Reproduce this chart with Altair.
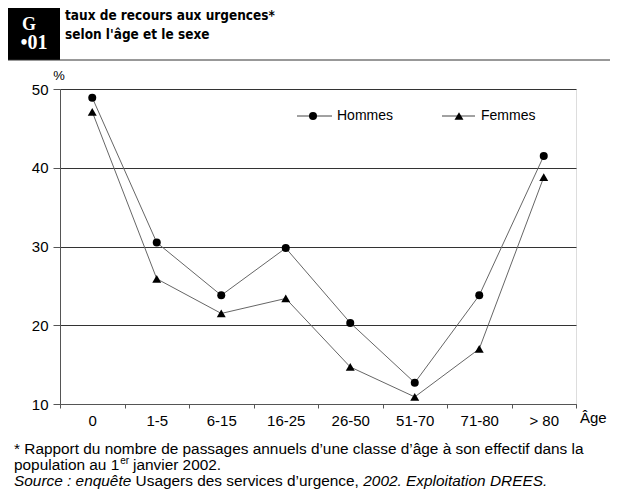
import altair as alt
import pandas as pd

ages = ["0", "1-5", "6-15", "16-25", "26-50", "51-70", "71-80", "> 80"]
hommes = [48.9, 30.5, 23.8, 29.8, 20.3, 12.7, 23.8, 41.5]
femmes = [47.1, 25.9, 21.5, 23.4, 14.7, 10.9, 17.0, 38.8]
series = ["Hommes", "Femmes"]
y_ticks = [10, 20, 30, 40, 50]

W, H = 516, 315
FONT = "Liberation Sans"

rows = []
for s, vals in zip(series, [hommes, femmes]):
    for a, v in zip(ages, vals):
        rows.append({"age": a, "serie": s, "taux": v})
df = pd.DataFrame(rows)

xenc = alt.X("age:N", sort=ages, title=None,
             scale=alt.Scale(paddingInner=0, paddingOuter=0),
             axis=alt.Axis(labelAngle=0, tickBand="extent", tickSize=4,
                           labelPadding=5, labelFontSize=15, labelColor="black",
                           tickColor="#555", domainColor="#555", grid=False))
yenc = alt.Y("taux:Q", title=None,
             scale=alt.Scale(domain=[10, 50], nice=False, zero=False),
             axis=alt.Axis(values=y_ticks, tickSize=7, labelPadding=5,
                           labelFontSize=15, labelColor="black",
                           tickColor="#555", domainColor="#555",
                           grid=True, gridColor="#333", gridWidth=1))

base = alt.Chart(df)
lines = base.mark_line(color="#666", strokeWidth=1).encode(
    x=xenc, y=yenc, detail="serie:N")
points = base.mark_point(filled=True, color="black", opacity=1).encode(
    x=xenc, y=yenc,
    shape=alt.Shape("serie:N", scale=alt.Scale(domain=series, range=["circle", "triangle-up"]), legend=None),
    size=alt.Size("serie:N", scale=alt.Scale(domain=series, range=[64, 80]), legend=None))


def one(d):
    return alt.Chart(pd.DataFrame([d]))


def text(t, x, y, size=14, align="left", font=FONT, weight="normal", style="normal",
         color="black", baseline="alphabetic"):
    return one({"t": t}).mark_text(align=align, baseline=baseline, fontSize=size, font=font,
                                   fontWeight=weight, fontStyle=style, color=color).encode(
        text="t:N", x=alt.value(x), y=alt.value(y))


layers = [lines, points]

# header box and frame
layers.append(one({"k": 1}).mark_rect(color="black").encode(
    x=alt.value(-53), x2=alt.value(0), y=alt.value(-84), y2=alt.value(-29)))
layers.append(one({"k": 1}).mark_rule(color="#333", strokeWidth=1).encode(
    x=alt.value(-53), x2=alt.value(560), y=alt.value(-29)))
layers.append(one({"k": 1}).mark_rule(color="#333", strokeWidth=1).encode(
    x=alt.value(-53), y=alt.value(-29), y2=alt.value(410)))
layers.append(text("G", -31, -59, size=18, align="center", font="Liberation Serif",
                   weight="bold", color="white"))
layers.append(text("•01", -26, -40, size=20, align="center", font="Liberation Serif",
                   weight="bold", color="white"))
TFONT = "Liberation Sans Narrow, DejaVu Sans Condensed, Liberation Sans"
layers.append(text("taux de recours aux urgences*", 5, -69, size=13.5, font=TFONT, weight="bold"))
layers.append(text("selon l'âge et le sexe", 5, -50, size=13.5, font=TFONT, weight="bold"))

# axis extras
layers.append(text("%", -1, -9, size=13, align="center"))
layers.append(text("Âge", 520, 334, size=15))

# legend
for name, x1, x2, xm, xt, shp, sz in [("Hommes", 237, 272, 253, 277, "circle", 64),
                                     ("Femmes", 382, 415, 399, 421, "triangle-up", 80)]:
    layers.append(one({"k": 1}).mark_rule(color="#444", strokeWidth=1).encode(
        x=alt.value(x1), x2=alt.value(x2), y=alt.value(27)))
    layers.append(one({"k": 1}).mark_point(shape=shp, size=sz, filled=True, color="black",
                                           opacity=1).encode(x=alt.value(xm), y=alt.value(27)))
    layers.append(text(name, xt, 27, size=14, baseline="middle"))

# footnotes
FS = 15.4
L = -46
layers.append(text("* Rapport du nombre de passages annuels d\u2019une classe d\u2019âge à son effectif dans la",
                   L, 365, size=FS))
layers.append(text("population au 1", L, 381, size=FS))
layers.append(text("er", L + 106.3, 375, size=10))
layers.append(text("janvier 2002.", L + 119, 381, size=FS))
layers.append(text("Source : enquête", L, 397, size=FS, style="italic"))
layers.append(text("Usagers des services d\u2019urgence,", L + 121.6, 397, size=FS))
layers.append(text("2002. Exploitation DREES.", L + 349.3, 397, size=FS, style="italic"))

chart = alt.layer(*layers).properties(
    width=W, height=H,
    autosize=alt.AutoSizeParams(type="none"),
    padding={"left": 52, "top": 81, "right": 34, "bottom": 85},
).configure_view(stroke="#555", strokeWidth=1).configure(
    font=FONT, background="white")

chart.save("out.html", embed_options={"renderer": "svg", "actions": False})
